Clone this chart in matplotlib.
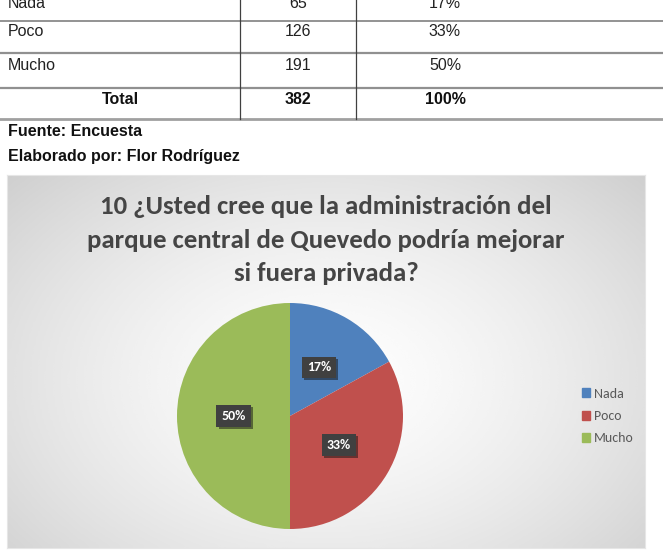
import numpy as np
import matplotlib
matplotlib.use("Agg")
import matplotlib.pyplot as plt
from matplotlib.lines import Line2D
from matplotlib.patches import Rectangle
import matplotlib.patheffects as pe

# ---- data ----
categories = ["Nada", "Poco", "Mucho"]
counts = [65, 126, 191]
percent_labels = ["17%", "33%", "50%"]
total_label = ["Total", "382", "100%"]
colors = ["#4F81BD", "#C0504D", "#9BBB59"]
title = "10 ¿Usted cree que la administración del\nparque central de Quevedo podría mejorar\nsi fuera privada?"
source_lines = ["Fuente: Encuesta", "Elaborado por: Flor Rodríguez"]

W, H = 663, 556
fig = plt.figure(figsize=(W / 100, H / 100), dpi=100)
fig.patch.set_facecolor("white")

def fx(x): return x / W
def fy(y): return 1 - y / H

tfont = ["Liberation Sans Narrow", "Liberation Sans", "DejaVu Sans"]
cfont = ["Carlito", "Lato", "DejaVu Sans"]

# ---- table ----
for y, c, lw in [(21, "#808080", 1.2), (53, "#909090", 1.6), (88, "#909090", 1.6), (119, "#a0a0a0", 2.0)]:
    fig.add_artist(Line2D([0, 1], [fy(y), fy(y)], transform=fig.transFigure, color=c, lw=lw))
for x in (240, 356):
    fig.add_artist(Line2D([fx(x), fx(x)], [fy(0), fy(119)], transform=fig.transFigure, color="#404040", lw=0.9))

row_y = [3, 32, 66]
for i, cat in enumerate(categories):
    fig.text(fx(8), fy(row_y[i]), cat, fontsize=11.5, family=tfont, va="center", ha="left", color="#222222")
    fig.text(fx(298), fy(row_y[i]), str(counts[i]), fontsize=11.5, family=tfont, va="center", ha="center", color="#222222")
    fig.text(fx(445), fy(row_y[i]), percent_labels[i], fontsize=11.5, family=tfont, va="center", ha="center", color="#222222")
for x, t in zip((120, 298, 445), total_label):
    fig.text(fx(x), fy(100), t, fontsize=11.5, family=tfont, weight="bold", va="center", ha="center", color="#111111")
fig.text(fx(8), fy(131), source_lines[0], fontsize=11.5, family=tfont, weight="bold", va="center", ha="left", color="#111111")
fig.text(fx(8), fy(156), source_lines[1], fontsize=11.5, family=tfont, weight="bold", va="center", ha="left", color="#111111")

# ---- chart area background (radial gradient) ----
cx0, cy0, cx1, cy1 = 7, 175, 645, 548
bg = fig.add_axes([fx(cx0), fy(cy1), fx(cx1 - cx0), (cy1 - cy0) / H])
yy, xx = np.mgrid[0:1:200j, 0:1:300j]
r = np.sqrt(((xx - 0.5) / 0.6) ** 2 + ((yy - 0.55) / 0.7) ** 2)
g = np.clip(0.995 - 0.15 * r ** 1.5, 0, 1)
bg.imshow(g, cmap="gray", vmin=0, vmax=1, extent=[0, 1, 0, 1], aspect="auto", interpolation="bicubic")
bg.set_xticks([]); bg.set_yticks([])
for s in bg.spines.values():
    s.set_color("#e6e6e6"); s.set_linewidth(0.8)

fig.text(fx(326), fy(240), title, fontsize=19.3, family=cfont, weight="bold",
         color="#454545", ha="center", va="center", linespacing=1.56)

# ---- pie ----
pcx, pcy, R = 290, 416, 113
ax = fig.add_axes([fx(pcx - R), fy(pcy + R), 2 * R / W, 2 * R / H])
wedges, texts = ax.pie(counts, colors=colors, startangle=90, counterclock=False, radius=1,
                       wedgeprops=dict(linewidth=0))
tot = sum(counts)
ang = 90.0
for i, v in enumerate(counts):
    span = 360.0 * v / tot
    mid = np.deg2rad(ang - span / 2)
    ang -= span
    ax.text(0.5 * np.cos(mid), 0.5 * np.sin(mid), percent_labels[i], ha="center", va="center",
            fontsize=10, weight="bold", color="white", family=cfont,
            bbox=dict(boxstyle="square,pad=0.35", fc="#404040", ec="none",
                      path_effects=[pe.SimplePatchShadow(offset=(1.5, -1.5), alpha=0.5), pe.Normal()]))
ax.set_xlim(-1, 1); ax.set_ylim(-1, 1)
ax.set_aspect("equal")
ax.axis("off")

# ---- legend ----
handles = [Rectangle((0, 0), 1, 1, color=c) for c in colors]
leg = fig.legend(handles, categories, loc="center left", bbox_to_anchor=(fx(569), fy(416)),
                 frameon=False, handlelength=0.6, handleheight=0.6, handletextpad=0.3,
                 labelspacing=0.75, prop=dict(family=cfont, size=10))
for t in leg.get_texts():
    t.set_color("#595959")

fig.savefig("out.png", dpi=100)
